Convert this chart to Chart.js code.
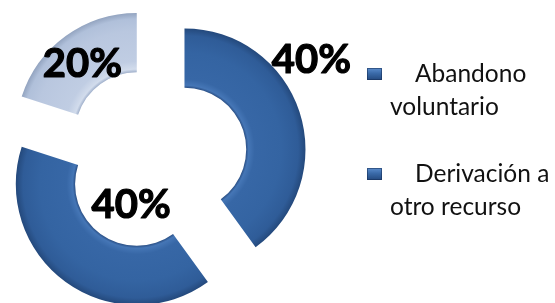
<!DOCTYPE html>
<html>
<head>
<meta charset="utf-8">
<script src="https://cdn.jsdelivr.net/npm/chart.js@4/dist/chart.umd.min.js"></script>
<style>
  html, body { margin: 0; padding: 0; background: #fff; }
  #wrap { position: relative; width: 555px; height: 303px; overflow: hidden; }
  #c { position: absolute; left: 0; top: 0; }
  .lg-box { position: absolute; width: 15px; height: 12px;
    background: linear-gradient(180deg, #5b8ccc 0%, #3a6aa8 45%, #24497e 100%);
    box-shadow: inset 0 0 0 1px rgba(20,45,85,0.55); }
  .lg-text { position: absolute; left: 390px; width: 165px; text-indent: 25px;
    font-family: Lato, "Open Sans", sans-serif; font-size: 24.5px; line-height: 33px; color: #111; }
</style>
</head>
<body>
<div id="wrap">
  <canvas id="c" width="555" height="303"></canvas>
</div>
<script>
// ---- data ----
const categories = ['Abandono voluntario', 'Derivación a otro recurso', ''];
const values = [40, 40, 20];
const pctLabels = ['40%', '40%', '20%'];

// ---- styles ----
const sliceKind = ['dark', 'dark', 'light'];
const explodePx = [31, 31, 31];          // outward shift of each slice
const labelAngleDeg = [55, 195, 322];    // clockwise from top, around each slice's own center
const labelRadiusFrac = [1.28, 0.18, 0.73];

const CX = 155, CY = 159, R = 121;

function ringGradient(ctx, kind) {
  const g = ctx.createRadialGradient(CX, CY, 0, CX, CY, R);
  if (kind === 'dark') {
    g.addColorStop(0.00, '#2b5289');
    g.addColorStop(0.505, '#26497d');
    g.addColorStop(0.53, '#4576b6');
    g.addColorStop(0.58, '#3767a6');
    g.addColorStop(0.80, '#3464a2');
    g.addColorStop(0.94, '#2f5c98');
    g.addColorStop(1.00, '#24497c');
  } else {
    g.addColorStop(0.00, '#a7b7d2');
    g.addColorStop(0.505, '#97a8c5');
    g.addColorStop(0.535, '#d2dcec');
    g.addColorStop(0.60, '#c0cde3');
    g.addColorStop(0.85, '#b9c7df');
    g.addColorStop(0.95, '#b0c0da');
    g.addColorStop(1.00, '#93a4c0');
  }
  return g;
}

function sliceShift(arc, i) {
  const half = (arc.startAngle + arc.endAngle) / 2;
  const d = explodePx[i] || 0;
  return [Math.cos(half) * d, Math.sin(half) * d];
}

// draws the library's arc elements, each shifted outward along its mid-angle
const explodePlugin = {
  id: 'explode',
  beforeDatasetDraw(chart, args) {
    const ctx = chart.ctx;
    args.meta.data.forEach((arc, i) => {
      const [dx, dy] = sliceShift(arc, i);
      ctx.save();
      ctx.translate(dx, dy);
      arc.draw(ctx, chart.chartArea);
      ctx.restore();
    });
    return false;
  }
};

const labelPlugin = {
  id: 'pctLabels',
  afterDatasetsDraw(chart) {
    const ctx = chart.ctx;
    const meta = chart.getDatasetMeta(0);
    ctx.save();
    ctx.font = 'bold 40px Lato, "DejaVu Sans", sans-serif';
    ctx.fillStyle = '#000';
    ctx.strokeStyle = '#000';
    ctx.lineWidth = 1.2;
    ctx.lineJoin = 'round';
    ctx.textAlign = 'center';
    ctx.textBaseline = 'middle';
    meta.data.forEach((arc, i) => {
      const [dx, dy] = sliceShift(arc, i);
      const a = (labelAngleDeg[i] - 90) * Math.PI / 180;
      const rr = labelRadiusFrac[i] * arc.outerRadius;
      const lx = arc.x + dx + Math.cos(a) * rr, ly = arc.y + dy + Math.sin(a) * rr;
      ctx.fillText(pctLabels[i], lx, ly);
      ctx.strokeText(pctLabels[i], lx, ly);
    });
    ctx.restore();
  }
};

const chart = new Chart(document.getElementById('c'), {
  type: 'doughnut',
  data: {
    labels: categories,
    datasets: [{
      data: values,
      backgroundColor: (c) => ringGradient(c.chart.ctx, sliceKind[c.dataIndex]),
      borderWidth: 0,
      offset: 0,
      hoverOffset: 0
    }]
  },
  options: {
    responsive: false,
    animation: false,
    radius: R,
    cutout: '51%',
    layout: { padding: { left: 0, right: 555 - 2 * CX, top: 2 * CY - 303, bottom: 0 } },
    plugins: { legend: { display: false }, tooltip: { enabled: false } },
    events: []
  },
  plugins: [explodePlugin, labelPlugin]
});

// ---- HTML legend ----
const baselines = [82, 182];
const wrap = document.getElementById('wrap');
categories.filter(s => s).forEach((name, i) => {
  const b = document.createElement('div');
  b.className = 'lg-box';
  b.style.left = '367px';
  b.style.top = (baselines[i] - 14) + 'px';
  wrap.appendChild(b);
  const t = document.createElement('div');
  t.className = 'lg-text';
  t.style.top = (baselines[i] - 26) + 'px';
  t.textContent = name;
  wrap.appendChild(t);
});
</script>
</body>
</html>
